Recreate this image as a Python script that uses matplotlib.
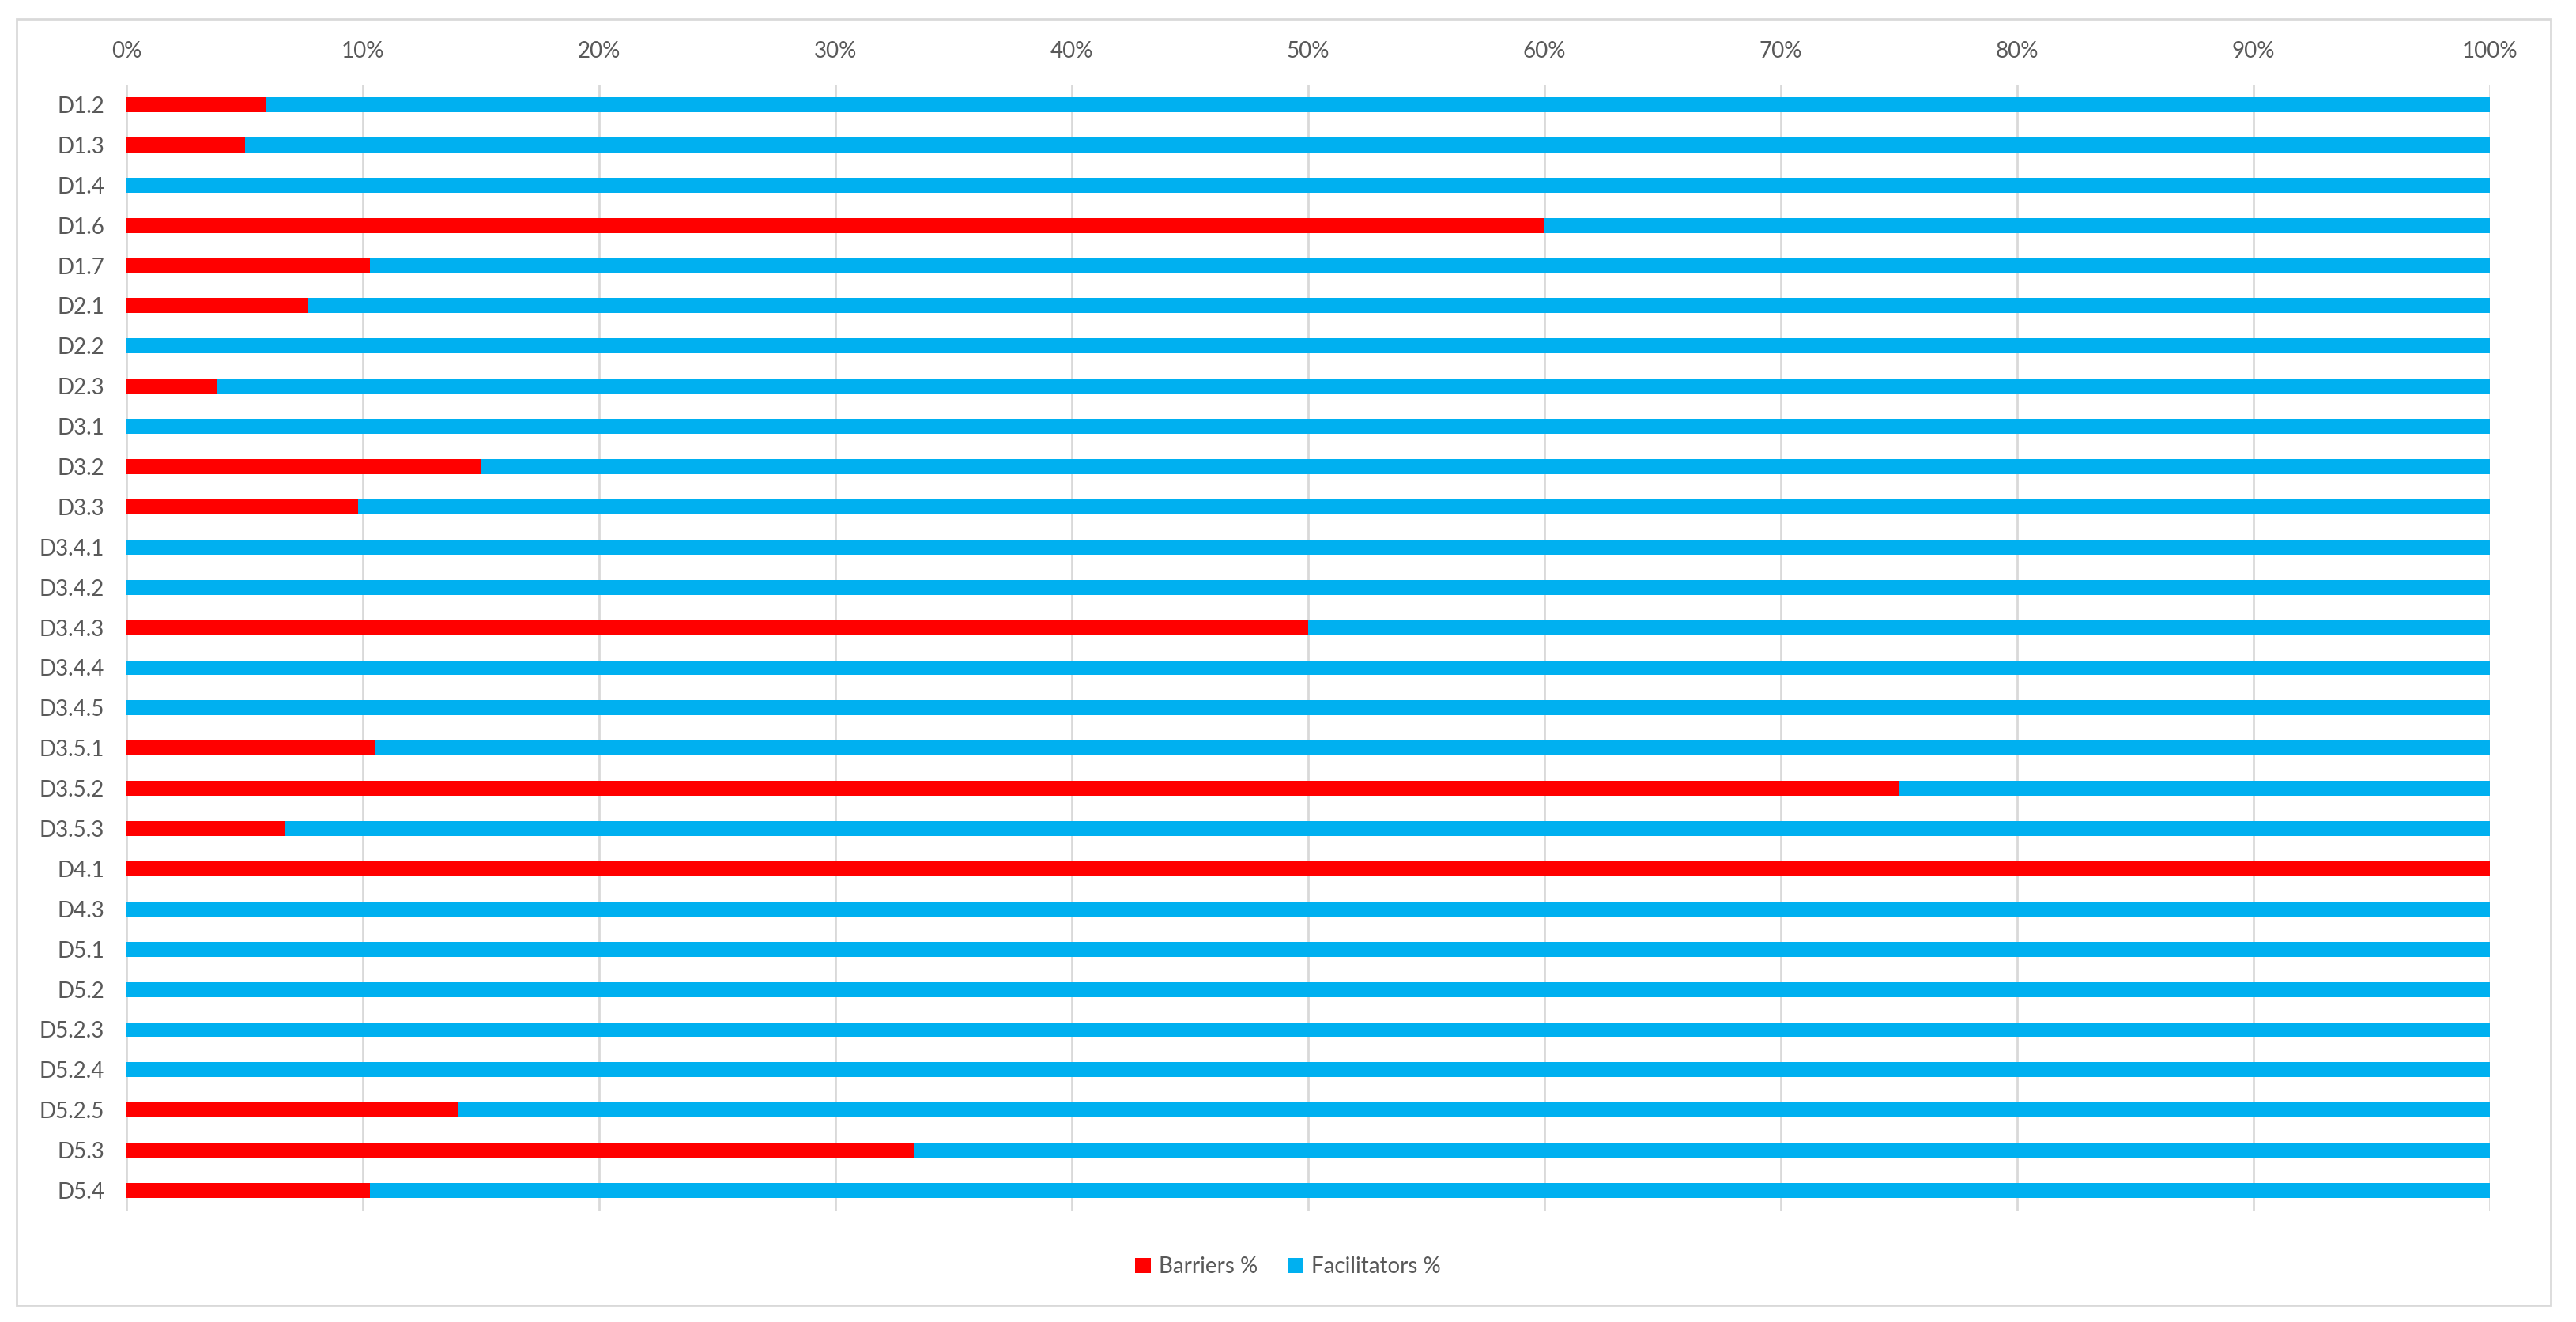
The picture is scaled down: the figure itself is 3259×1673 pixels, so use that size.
import matplotlib.pyplot as plt
from matplotlib.patches import Rectangle
from matplotlib.ticker import PercentFormatter

categories = ['D1.2', 'D1.3', 'D1.4', 'D1.6', 'D1.7', 'D2.1', 'D2.2', 'D2.3',
              'D3.1', 'D3.2', 'D3.3', 'D3.4.1', 'D3.4.2', 'D3.4.3', 'D3.4.4',
              'D3.4.5', 'D3.5.1', 'D3.5.2', 'D3.5.3', 'D4.1', 'D4.3', 'D5.1',
              'D5.2', 'D5.2.3', 'D5.2.4', 'D5.2.5', 'D5.3', 'D5.4']
barriers = [5.9, 5.0, 0, 60, 10.3, 7.7, 0, 3.85,
            0, 15, 9.8, 0, 0, 50, 0,
            0, 10.5, 75, 6.7, 100, 0, 0,
            0, 0, 0, 14, 33.3, 10.3]
facilitators = [100 - b for b in barriers]

RED = '#FF0000'
BLUE = '#00B0F0'
GREY_TXT = '#595959'
GRID = '#D9D9D9'

plt.rcParams['font.family'] = ['Lato', 'DejaVu Sans']

fig = plt.figure(figsize=(32.59, 16.73), dpi=100)
ax = fig.add_axes([160 / 3259, 1 - 1532 / 1673, 2990 / 3259, 1425 / 1673])

# рамка вокруг всей диаграммы
fig.patches.append(Rectangle((21 / 3259, 1 - 1652 / 1673), 3206 / 3259, 1628 / 1673,
                             transform=fig.transFigure, fill=False,
                             edgecolor=GRID, linewidth=2))

y = list(range(len(categories)))
ax.barh(y, barriers, height=0.37, color=RED, label='Barriers %', zorder=3)
ax.barh(y, facilitators, left=barriers, height=0.37, color=BLUE,
        label='Facilitators %', zorder=3)

ax.set_xlim(0, 100)
ax.set_ylim(len(categories) - 0.5, -0.5)
ax.set_yticks(y)
ax.set_yticklabels(categories)
ax.set_xticks(range(0, 101, 10))
ax.xaxis.set_major_formatter(PercentFormatter(decimals=0))
ax.xaxis.tick_top()

ax.tick_params(axis='x', length=0, pad=21, labelsize=20, labelcolor=GREY_TXT)
ax.tick_params(axis='y', length=0, pad=20, labelsize=20, labelcolor=GREY_TXT)
ax.grid(axis='x', color=GRID, linewidth=2, zorder=0)
for s in ax.spines.values():
    s.set_visible(False)

fig.legend(loc='center', bbox_to_anchor=(0.5, 1 - 1603 / 1673), ncol=2,
           frameon=False, fontsize=20, labelcolor=GREY_TXT,
           handlelength=0.7, handleheight=0.7, handletextpad=0.35,
           columnspacing=1.4)

fig.savefig('out.png', dpi=100)
